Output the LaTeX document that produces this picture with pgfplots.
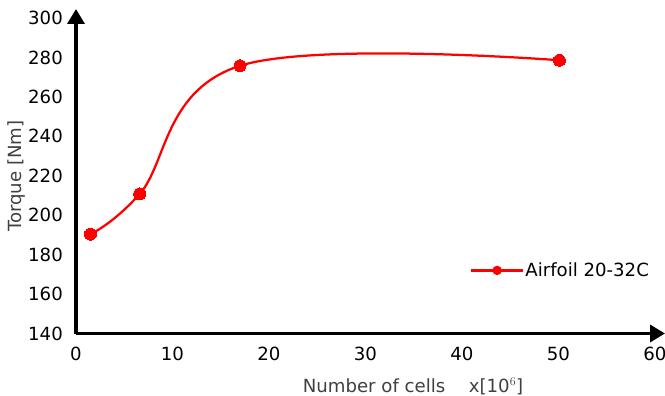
\documentclass[border=0pt]{standalone}
\usepackage{fontspec}
\setmainfont{DejaVu Sans}
\usepackage{pgfplots}
\pgfplotsset{compat=1.18}
\usetikzlibrary{arrows.meta}
\begin{document}
\begin{tikzpicture}
\begin{axis}[
  scale only axis,
  width=589bp, height=324.5bp,
  xmin=0, xmax=61.04, ymin=140, ymax=304.6,
  axis lines=left,
  axis line style={line width=3.5bp},
  x axis line style={-{Triangle[length=15bp,width=17bp]}},
  y axis line style={-{Triangle[length=15bp,width=17bp]}},
  xtick={0,10,...,60}, ytick={140,160,...,300},
  major tick length=0pt,
  font=\fontsize{18.2}{22}\selectfont,
  /pgf/number format/assume math mode=true,
  xticklabel style={anchor=north, inner sep=0pt, yshift=-13bp},
  yticklabel style={anchor=east, inner sep=0pt, xshift=-13bp},
  xlabel={Number of cells\hspace{1.3em}x[10$^{6}$]},
  ylabel={Torque [Nm]},
  xlabel style={at={(axis description cs:0.5722,-0.1803)}, anchor=base, text=black!75},
  ylabel style={at={(axis description cs:-0.1002,0.485)}, anchor=center, text=black!75},
  legend style={draw=none, fill=none, at={(axis cs:40.8,172)}, anchor=west, inner sep=0pt,
    nodes={inner sep=1bp, text=black}},
  legend image code/.code={%
    \draw[red, line width=2.5bp] (0bp,0bp) -- (52bp,0bp);
    \fill[red] (26bp,0bp) circle (3.5bp);},
]
\addplot[red, line width=2.25bp, smooth, tension=0.65, mark=*, mark size=6bp,
  mark options={fill=red, draw=red, line width=0pt}]
  coordinates {(1.5,190.4) (6.6,210.8) (17,275.8) (50.1,278.6)};
\addlegendentry{Airfoil 20-32C}
\end{axis}
\pgfresetboundingbox
\useasboundingbox (-76bp,-62.5bp) rectangle (589bp,333.5bp);
\end{tikzpicture}
\end{document}
